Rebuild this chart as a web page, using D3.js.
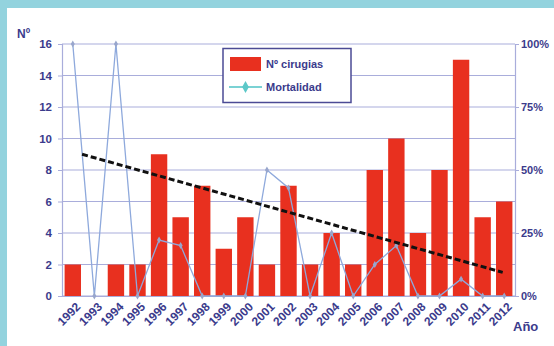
<!DOCTYPE html>
<html>
<head>
<meta charset="utf-8">
<script src="https://cdn.jsdelivr.net/npm/d3@7/dist/d3.min.js"></script>
<style>
  html, body { margin: 0; padding: 0; background: #ffffff; }
  svg { display: block; }
  text { font-family: "Liberation Sans", Arial, sans-serif; font-weight: bold; fill: #3b3b8c; }
</style>
</head>
<body>
<svg id="chart" width="554" height="346"></svg>
<script>
// Years on the category axis
const years = [1992, 1993, 1994, 1995, 1996, 1997, 1998, 1999, 2000, 2001, 2002,
               2003, 2004, 2005, 2006, 2007, 2008, 2009, 2010, 2011, 2012];
// Number of surgeries per year (left axis)
const cirugias = [2, 0, 2, 2, 9, 5, 7, 3, 5, 2, 7, 2, 4, 2, 8, 10, 4, 8, 15, 5, 6];
// Mortality per year, as a fraction (right axis)
const mortalidad = [1, 0, 1, 0, 0.222, 0.2, 0, 0, 0, 0.5, 0.429, 0, 0.25, 0,
                    0.125, 0.2, 0, 0, 0.067, 0, 0];
// Linear trend line, endpoints in (year position, count)
const trendX = [1992.43, 2011.93];
const trendY = [9.0, 1.5];
// Tick values
const leftTicks = [0, 2, 4, 6, 8, 10, 12, 14, 16];
const rightTicks = [0, 0.25, 0.5, 0.75, 1];

const W = 554, H = 346;
const plot = { left: 62, right: 515, top: 44, bottom: 296 };
const svg = d3.select("#chart");
const ink = "#3b3b8c";
const fontFam = "Liberation Sans, Arial, sans-serif";

// Light blue frame: top band and left band
svg.append("rect").attr("x", 0).attr("y", 0).attr("width", W).attr("height", 8).attr("fill", "#93d3de");
svg.append("rect").attr("x", 0).attr("y", 0).attr("width", 7).attr("height", H).attr("fill", "#93d3de");

const x = d3.scaleBand().domain(years).range([plot.left, plot.right]).paddingInner(0.24).paddingOuter(0.12);
const yL = d3.scaleLinear().domain([0, 16]).range([plot.bottom, plot.top]);
const yR = d3.scaleLinear().domain([0, 1]).range([plot.bottom, plot.top]);
const cx = yr => x(yr) + x.bandwidth() / 2;
// continuous position along the year axis (for the trend line)
const xYear = d3.scaleLinear().domain([1992, 2012]).range([cx(1992), cx(2012)]);

const gridColor = "#a9addb";

function styleTicks(g, size) {
  g.selectAll(".tick text").style("font-size", size).attr("fill", ink)
    .style("font-family", fontFam).style("font-weight", "bold");
}

// Horizontal gridlines
svg.append("g").selectAll("line").data(leftTicks).join("line")
  .attr("x1", plot.left).attr("x2", plot.right)
  .attr("y1", d => yL(d)).attr("y2", d => yL(d))
  .attr("stroke", gridColor).attr("stroke-width", 1.2);

// Left axis
const gL = svg.append("g").attr("transform", `translate(${plot.left},0)`)
  .call(d3.axisLeft(yL).tickValues(leftTicks).tickSize(4).tickPadding(6));
gL.select(".domain").attr("stroke", gridColor).attr("stroke-width", 1.2);
gL.selectAll(".tick line").attr("stroke", gridColor);
styleTicks(gL, "11.5px");

// Right axis
const gR = svg.append("g").attr("transform", `translate(${plot.right},0)`)
  .call(d3.axisRight(yR).tickValues(rightTicks).tickFormat(d3.format(".0%")).tickSize(4).tickPadding(2));
gR.select(".domain").attr("stroke", gridColor).attr("stroke-width", 1.2);
gR.selectAll(".tick line").attr("stroke", gridColor);
styleTicks(gR, "11px");

// Bars
svg.append("g").selectAll("rect").data(years).join("rect")
  .attr("x", d => x(d)).attr("width", x.bandwidth())
  .attr("y", (d, i) => yL(cirugias[i]))
  .attr("height", (d, i) => yL(0) - yL(cirugias[i]))
  .attr("fill", "#e8301f");

// Bottom axis (category labels, rotated)
const gB = svg.append("g").attr("transform", `translate(0,${plot.bottom})`)
  .call(d3.axisBottom(x).tickSize(0).tickPadding(0));
gB.select(".domain").attr("stroke", gridColor).attr("stroke-width", 1.2);
styleTicks(gB, "12px");
gB.selectAll(".tick text")
  .attr("text-anchor", "end")
  .attr("dx", "0").attr("dy", "0").attr("y", 0)
  .attr("transform", "translate(8.5,11.5) rotate(-45)");

// Mortality line
const mData = years.map((yr, i) => [yr, mortalidad[i]]);
svg.append("path").datum(mData)
  .attr("fill", "none").attr("stroke", "#8ea9dc").attr("stroke-width", 1.3)
  .attr("d", d3.line().x(d => cx(d[0])).y(d => yR(d[1])));
svg.append("g").selectAll("path").data(mData).join("path")
  .attr("d", d3.symbol().type(d3.symbolDiamond).size(14))
  .attr("transform", d => `translate(${cx(d[0])},${yR(d[1])})`)
  .attr("fill", "#98a6cc");

// Trend line (dashed)
svg.append("line")
  .attr("x1", xYear(trendX[0])).attr("y1", yL(trendY[0]))
  .attr("x2", xYear(trendX[1])).attr("y2", yL(trendY[1]))
  .attr("stroke", "#111111").attr("stroke-width", 3).attr("stroke-dasharray", "6,3");

// Axis titles
svg.append("text").attr("x", 17).attr("y", 38).style("font-size", "12px").text("Nº");
svg.append("text").attr("x", 513).attr("y", 331).style("font-size", "13px").text("Año");

// Legend
const lg = svg.append("g");
lg.append("rect").attr("x", 223).attr("y", 48.5).attr("width", 128).attr("height", 54)
  .attr("fill", "#ffffff").attr("stroke", "#4b4b95").attr("stroke-width", 1.5);
lg.append("rect").attr("x", 230).attr("y", 57).attr("width", 31).attr("height", 14).attr("fill", "#e8301f");
lg.append("text").attr("x", 266).attr("y", 68).style("font-size", "11px").text("Nº cirugias");
lg.append("line").attr("x1", 229).attr("x2", 262).attr("y1", 87).attr("y2", 87)
  .attr("stroke", "#4fc3c6").attr("stroke-width", 1.5);
lg.append("path").attr("d", d3.symbol().type(d3.symbolDiamond).size(40))
  .attr("transform", "translate(245.5,87)").attr("fill", "#5cc8c8");
lg.append("text").attr("x", 266).attr("y", 91).style("font-size", "11px").text("Mortalidad");
</script>
</body>
</html>
